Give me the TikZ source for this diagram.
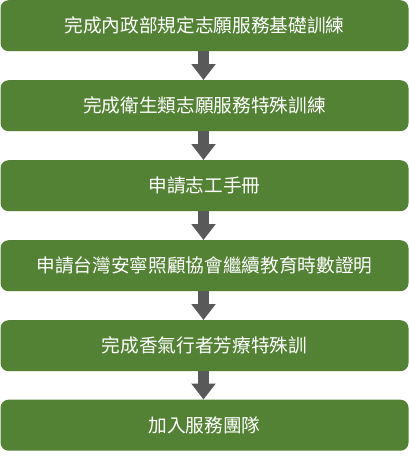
\documentclass[tikz,border=0pt]{standalone}
\usepackage{fontspec}
\setmainfont{Noto Sans CJK TC}
\usetikzlibrary{arrows.meta}
\definecolor{boxgreen}{HTML}{548235}
\definecolor{arrowgray}{HTML}{595959}
\begin{document}
\begin{tikzpicture}[x=1pt,y=1pt,
  stepbox/.style={fill=boxgreen, draw=none, rounded corners=8pt, minimum width=408pt, minimum height=51pt, inner sep=0pt, text=white, font=\fontsize{18.67pt}{22pt}\selectfont, anchor=north},
  flowarrow/.style={draw=arrowgray, line width=11pt, -{Triangle[width=23.5pt,length=16pt]}}]
\useasboundingbox (0,0) rectangle (409,-464);
\node[stepbox] (b1) at (204.5,0) {完成內政部規定志願服務基礎訓練};
\node[stepbox] (b2) at (204.5,-80) {完成衛生類志願服務特殊訓練};
\node[stepbox] (b3) at (204.5,-160) {申請志工手冊};
\node[stepbox] (b4) at (204.5,-240) {申請台灣安寧照顧協會繼續教育時數證明};
\node[stepbox] (b5) at (204.5,-320) {完成香氣行者芳療特殊訓};
\node[stepbox] (b6) at (204.5,-399.5) {加入服務團隊};
\draw[flowarrow] ([xshift=-1pt]b1.south) -- ([xshift=-1pt]b2.north);
\draw[flowarrow] ([xshift=-1pt]b2.south) -- ([xshift=-1pt]b3.north);
\draw[flowarrow] ([xshift=-1pt]b3.south) -- ([xshift=-1pt]b4.north);
\draw[flowarrow] ([xshift=-1pt]b4.south) -- ([xshift=-1pt]b5.north);
\draw[flowarrow] ([xshift=-1pt]b5.south) -- ([xshift=-1pt]b6.north);
\end{tikzpicture}
\end{document}
